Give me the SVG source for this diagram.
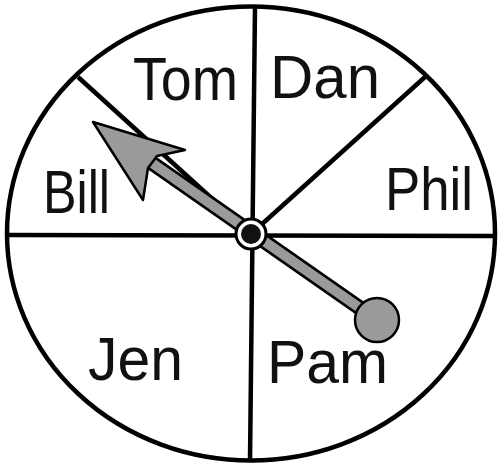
<svg xmlns="http://www.w3.org/2000/svg" width="499" height="465" viewBox="0 0 499 465">
<style>
.ln{stroke:#000;stroke-width:4.5;fill:none;stroke-linecap:butt}
.lbl{font-family:"Liberation Sans","DejaVu Sans",sans-serif;font-size:62px;fill:#111}
.ptr{fill:#9a9a9a;stroke:#000;stroke-width:2.5;stroke-linejoin:round}
</style>
<rect width="499" height="465" fill="#fff"/>
<g id="spinner">
<ellipse class="ln" cx="251" cy="233.5" rx="244" ry="227"/>
</g>
<g id="dividers">
<line class="ln" x1="255" y1="6" x2="250" y2="461"/>
<line class="ln" x1="7" y1="235" x2="495" y2="236"/>
<line class="ln" x1="78" y1="77" x2="251" y2="234"/>
<line class="ln" x1="425" y1="77" x2="251" y2="234"/>
</g>
<g id="label-tom"><text class="lbl" x="133" y="100" textLength="105" lengthAdjust="spacingAndGlyphs">Tom</text></g>
<g id="label-dan"><text class="lbl" x="270" y="98" textLength="110" lengthAdjust="spacingAndGlyphs">Dan</text></g>
<g id="label-phil"><text class="lbl" x="385" y="210" textLength="88" lengthAdjust="spacingAndGlyphs">Phil</text></g>
<g id="label-bill"><text class="lbl" x="43" y="213" textLength="67" lengthAdjust="spacingAndGlyphs">Bill</text></g>
<g id="label-jen"><text class="lbl" x="88" y="380" textLength="95" lengthAdjust="spacingAndGlyphs">Jen</text></g>
<g id="label-pam"><text class="lbl" x="267" y="383" textLength="121" lengthAdjust="spacingAndGlyphs">Pam</text></g>
<g id="pointer">
<line x1="152" y1="163" x2="377" y2="320" stroke="#000" stroke-width="15"/>
<line x1="152" y1="163" x2="377" y2="320" stroke="#9a9a9a" stroke-width="10"/>
<polygon class="ptr" points="93,122 185,150 157,156 148,168 143,200"/>
<circle class="ptr" cx="377" cy="320" r="22"/>
</g>
<g id="hub">
<circle cx="251" cy="234" r="15" fill="#fff" stroke="#000" stroke-width="3"/>
<circle cx="251" cy="234" r="10" fill="#111"/>
</g>
</svg>
